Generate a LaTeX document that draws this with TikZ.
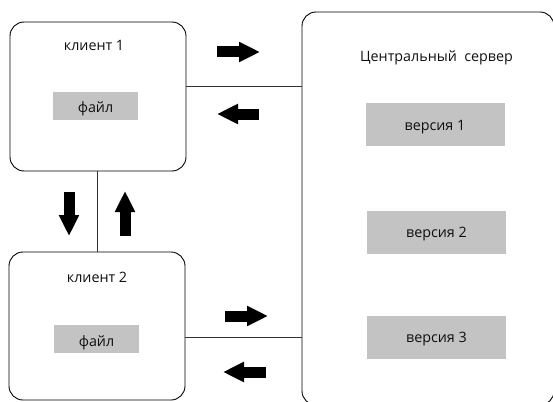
\documentclass[tikz,border=0pt]{standalone}
\usepackage{fontspec}
\setmainfont{Open Sans}
\usetikzlibrary{arrows.meta, calc, positioning}
\definecolor{filegray}{RGB}{195,195,195}
\definecolor{txtgray}{RGB}{15,15,15}

\begin{document}
\begin{tikzpicture}[
  x=1pt, y=-1pt, font=\fontsize{14.3}{17}\selectfont, text=txtgray,
  unit/.style={draw, line width=0.9pt, rounded corners=14pt, inner sep=0pt},
  fbox/.style={fill=filegray, minimum width=85pt, inner sep=0pt, text height=21pt, text depth=7pt},
  vbox/.style={fill=filegray, minimum width=139pt, inner sep=0pt, text height=27pt, text depth=16pt},
  lbl/.style={anchor=base, inner sep=0pt},
  link/.style={draw=black!80, line width=0.8pt},
  blk/.style={line width=11pt, -{Triangle[length=21pt, width=19pt]}}]
  \useasboundingbox (0,0) rectangle (553,401);
  \clip (0,0) rectangle (553,401);
  % Клиенты и сервер
  \node[unit, minimum width=176pt, minimum height=149pt] (cl1) at (98,96.5) {};
  \node[unit, minimum width=176pt, minimum height=148pt] (cl2) at (97,326) {};
  \node[unit, minimum width=252pt, minimum height=393pt] (srv) at (428,208.5) {};
  % Подписи
  \node[lbl] (t1) at (94,51) {клиент 1};
  \node[lbl] (t2) at (97,282) {клиент 2};
  \node[lbl] (ts) at (436.5,62) {Центральный\ \ сервер};
  % Файлы и версии
  \node[fbox] (f1) at (95.5,106) {файл};
  \node[fbox] (f2) at (96.5,339) {файл};
  \node[vbox] (v1) at (435,124.5) {версия 1};
  \node[vbox] (v2) at (436.5,232) {версия 2};
  \node[vbox] (v3) at (436.5,337) {версия 3};
  % Связи
  \coordinate (p1) at ($(cl1.east)+(0,-10.5)$);
  \coordinate (p2) at ($(cl2.east)+(0,11)$);
  \draw[link] (p1) -- (p1 -| srv.west);
  \draw[link] (p2) -- (p2 -| srv.west);
  \draw[link] (cl2.north |- cl1.south) -- (cl2.north);
  % Стрелки
  \coordinate (s1a) at (217,52);  \coordinate (s1b) at (260,52);
  \coordinate (c1a) at (259,114); \coordinate (c1b) at (217,114);
  \coordinate (d1a) at (69,192);  \coordinate (d1b) at (69,236);
  \coordinate (u1a) at (125,236); \coordinate (u1b) at (125,191);
  \coordinate (s2a) at (225,316); \coordinate (s2b) at (268,316);
  \coordinate (c2a) at (266,372); \coordinate (c2b) at (223,372);
  \draw[blk] (s1a) -- (s1b); \draw[blk] (c1a) -- (c1b);
  \draw[blk] (d1a) -- (d1b); \draw[blk] (u1a) -- (u1b);
  \draw[blk] (s2a) -- (s2b); \draw[blk] (c2a) -- (c2b);
\end{tikzpicture}
\end{document}
